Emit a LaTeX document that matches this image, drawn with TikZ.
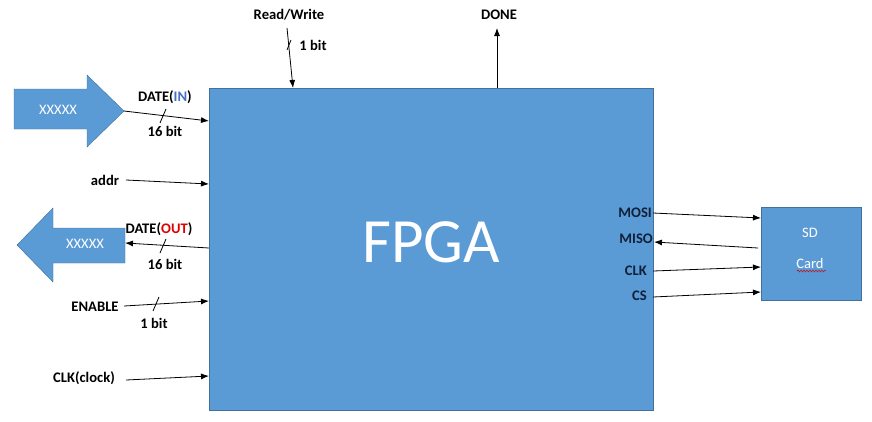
\documentclass[tikz,border=0pt]{standalone}
\usepackage{fontspec}
\setmainfont{Carlito}
\usetikzlibrary{arrows.meta, calc, decorations.pathmorphing}

\definecolor{boxblue}{HTML}{5B9BD5}
\definecolor{boxline}{HTML}{41719C}
\definecolor{inblue}{HTML}{4472C4}
\definecolor{outred}{HTML}{E00000}
\definecolor{pinnavy}{HTML}{10203A}

\tikzset{
  block/.style={draw=boxline, fill=boxblue},
  sig/.style={font=\fontsize{14.6}{17}\selectfont\bfseries, inner sep=1pt},
  pin/.style={sig, text=pinnavy, anchor=east},
  wire/.style={-{Latex[length=8pt,width=6pt]}, line width=0.8pt},
  whitetext/.style={text=white, font=\fontsize{14.5}{17}\selectfont, inner sep=0pt}
}
\newcommand{\busmark}[1]{\draw[line width=0.8pt] ($(#1)+(-3,7)$) -- ($(#1)+(3,-7)$);}

\begin{document}
\begin{tikzpicture}[x=1pt, y=-1pt]
\useasboundingbox (0,0) rectangle (872,421);

% main blocks
\draw[block] (209,88) rectangle (653,410);
\node (fpga) [text=white, font=\fontsize{63}{70}\selectfont] at (431,242) {FPGA};
\draw[block] (761,207) rectangle (861,300);
\node (sd) [whitetext] at (810,233) {SD};
\node (card) [whitetext] at (810,264) {Card};
\draw[red!80!black, decorate, decoration={snake, amplitude=1pt, segment length=3pt}] (797,271) -- (826,271);

% big data arrows
\draw[block] (14,89) -- (87,89) -- (87,75) -- (124,111) -- (87,147) -- (87,129) -- (14,129) -- cycle;
\coordinate (intip) at (124,111);
\node (inarrow) [whitetext] at (58,110) {XXXXX};
\draw[block] (125,228) -- (53,228) -- (53,208) -- (17,245) -- (53,282) -- (53,263) -- (125,263) -- cycle;
\coordinate (outtail) at (125,243);
\node (outarrow) [whitetext] at (85,244) {XXXXX};

% left side signals
\node (datein) [sig] at (165,97) {DATE(\textcolor{inblue}{IN})};
\node (dinbits) [sig] at (165,131) {16 bit};
\coordinate (dinend) at (209,121);
\draw[wire] (intip) -- (dinend);
\coordinate (dinmark) at (163,116);
\busmark{dinmark}

\node (addr) [sig] at (105,180) {addr};
\coordinate (addrstart) at (126,180);
\coordinate (addrend) at (209,184);
\draw[wire] (addrstart) -- (addrend);

\node (dateout) [sig] at (159,229) {DATE(\textcolor{outred}{OUT})};
\node (doutbits) [sig] at (165,264) {16 bit};
\coordinate (doutstart) at (209,248);
\draw[wire] (doutstart) -- (outtail);
\coordinate (doutmark) at (163,246);
\busmark{doutmark}

\node (enable) [sig] at (95,307) {ENABLE};
\node (enbits) [sig] at (154,323) {1 bit};
\coordinate (enstart) at (124,306);
\coordinate (enend) at (209,301);
\draw[wire] (enstart) -- (enend);
\coordinate (enmark) at (156,304);
\busmark{enmark}

\node (clock) [sig] at (84,378) {CLK(clock)};
\coordinate (clkstart) at (126,380);
\coordinate (clkend) at (209,376);
\draw[wire] (clkstart) -- (clkend);

% top signals
\node (rw) [sig] at (289,15) {Read/Write};
\node (rwbits) [sig] at (313,45) {1 bit};
\coordinate (rwstart) at (287,28);
\coordinate (rwend) at (293,88);
\draw[wire] (rwstart) -- (rwend);
\coordinate (rwmark) at (289,45);
\draw[line width=0.8pt] ($(rwmark)+(-2,5)$) -- ($(rwmark)+(2,-5)$);

\node (done) [sig] at (499,15) {DONE};
\coordinate (donestart) at (497,88);
\coordinate (doneend) at (497,28);
\draw[wire] (donestart) -- (doneend);

% SD card interface
\node (mosi) [pin] at (653,213) {MOSI};
\node (miso) [pin] at (654,239) {MISO};
\node (sclk) [pin] at (648,271) {CLK};
\node (cs) [pin] at (648,296) {CS};
\coordinate (mosiend) at (761,218);
\coordinate (misostart) at (758,248);
\coordinate (misoend) at (654,242);
\coordinate (clkpin) at (761,267);
\coordinate (cspin) at (761,292);
\draw[wire] (mosi.east) -- (mosiend);
\draw[wire] (misostart) -- (misoend);
\draw[wire] (sclk.east) ++(5,0) coordinate (sclkout) -- (clkpin);
\draw[wire] (cs.east) ++(5,1) coordinate (csout) -- (cspin);

\end{tikzpicture}
\end{document}
